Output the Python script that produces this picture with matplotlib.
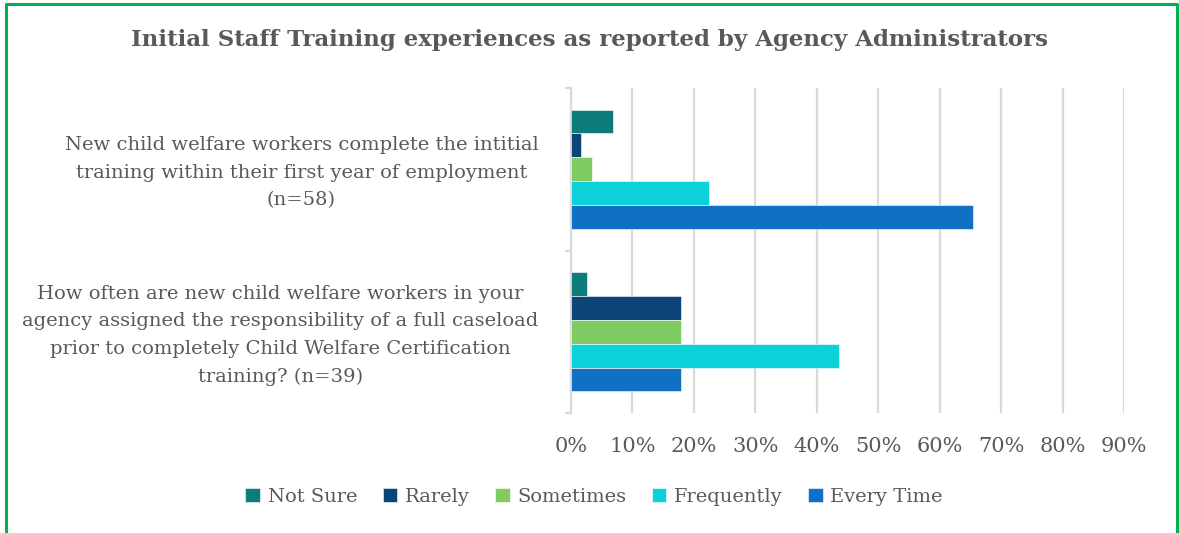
import matplotlib.pyplot as plt
from matplotlib.lines import Line2D
from matplotlib.ticker import PercentFormatter
import numpy as np

plt.rcParams['font.family'] = ['DejaVu Serif']

TEXT = "#595959"
GRID = "#D9D9D9"

categories = [
    "New child welfare workers complete the intitial\n"
    "training within their first year of employment\n(n=58)",
    "How often are new child welfare workers in your\n"
    "agency assigned the responsibility of a full caseload\n"
    "prior to completely Child Welfare Certification\ntraining? (n=39)",
]
series = ["Not Sure", "Rarely", "Sometimes", "Frequently", "Every Time"]
colors = ["#0E7C7B", "#0B4477", "#7ECC62", "#0CD1D9", "#1070C4"]

# percent of respondents, per series, for each question
not_sure = [6.9, 2.6]
rarely = [1.7, 17.9]
sometimes = [3.4, 17.9]
frequently = [22.4, 43.6]
every_time = [65.5, 17.9]
values = [not_sure, rarely, sometimes, frequently, every_time]

xticks = list(range(0, 100, 10))

fig = plt.figure(figsize=(11.79, 5.33), dpi=100)
ax = fig.add_axes([571 / 1179, 1 - 413 / 533, 553 / 1179, 325 / 533])

y = np.arange(len(categories))
h = 0.147
for j, (name, vals, c) in enumerate(zip(series, values, colors)):
    ax.barh(y + (j - 2) * h, vals, height=h, color=c, label=name,
            edgecolor="white", linewidth=0.4, zorder=3)

ax.set_xlim(0, 90)
ax.set_ylim(1.5, -0.5)
ax.set_xticks(xticks)
ax.xaxis.set_major_formatter(PercentFormatter(decimals=0))
ax.grid(axis="x", color=GRID, linewidth=1.6, zorder=0)

ax.set_yticks([-0.5, 0.5, 1.5], minor=False)
ax.set_yticklabels([])
ax.set_yticks(y - 0.02, minor=True)
ax.set_yticklabels(categories, minor=True)
for t in ax.get_yticklabels(minor=True):
    t.set_multialignment("center")
    t.set_linespacing(1.68)
ax.tick_params(axis="y", which="major", length=4, color=GRID, width=1.6)
ax.tick_params(axis="y", which="minor", length=0, pad=23.5,
               labelsize=14, labelcolor=TEXT)
ax.tick_params(axis="x", length=0, pad=17, labelsize=15, labelcolor=TEXT)

for s in ["top", "right", "bottom"]:
    ax.spines[s].set_visible(False)
ax.spines["left"].set_color(GRID)
ax.spines["left"].set_linewidth(1.6)

fig.suptitle("Initial Staff Training experiences as reported by Agency Administrators",
             x=0.5, y=1 - 40 / 533, va="center", fontsize=16.5,
             fontweight="bold", color=TEXT)

fig.legend(loc="center", bbox_to_anchor=(0.504, 1 - 497 / 533), ncol=5,
           frameon=False, fontsize=14, labelcolor=TEXT,
           handlelength=0.75, handleheight=0.75, handletextpad=0.4,
           columnspacing=1.3)

# green chart border (left, top, right)
g = "#00B050"
fig.add_artist(Line2D([6 / 1179, 6 / 1179, 1177 / 1179, 1177 / 1179],
                      [0, 1 - 4 / 533, 1 - 4 / 533, 0],
                      transform=fig.transFigure, color=g, linewidth=2.2))

fig.savefig("out.png", dpi=100)
